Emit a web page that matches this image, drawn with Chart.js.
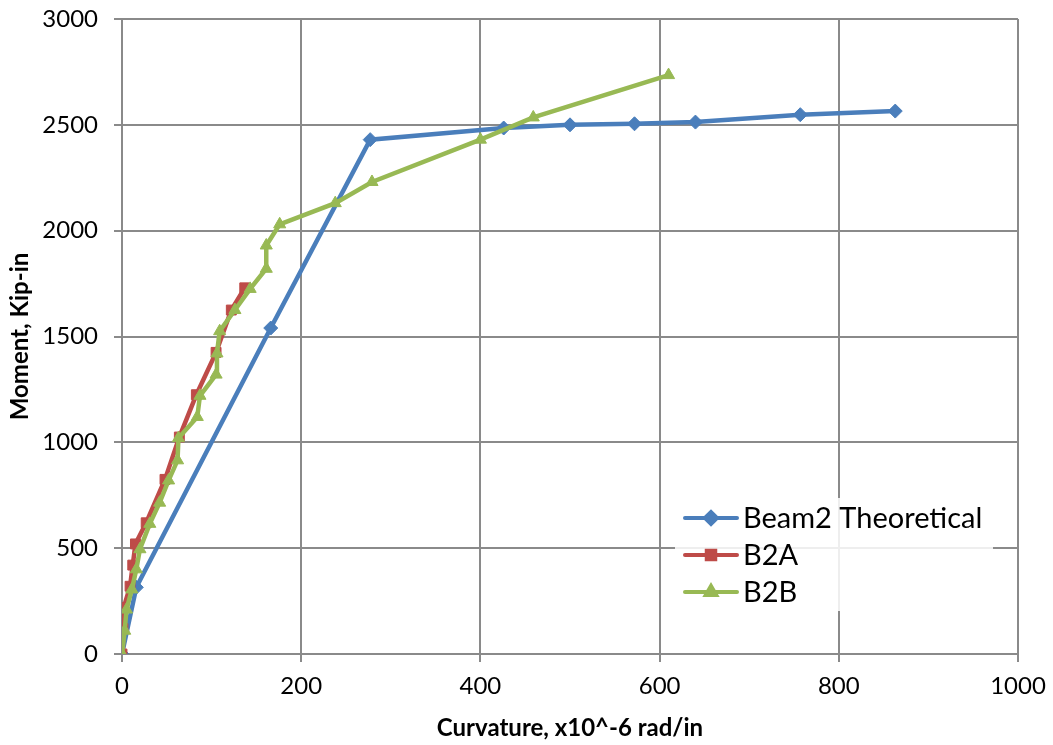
<!DOCTYPE html>
<html lang="en">
<head>
  <meta charset="utf-8">
  <title>Moment vs Curvature</title>
  <script src="https://cdn.jsdelivr.net/npm/chart.js"></script>
  <style>
    * { box-sizing: border-box; margin: 0; padding: 0; }
    html, body { width: 1053px; height: 745px; background: #ffffff; overflow: hidden; }
    #wrap { position: relative; width: 1053px; height: 745px; }
  </style>
</head>
<body>
  <div id="wrap"><canvas id="chart"></canvas></div>
  <script>
    // data
    const theoX = [0, 16, 166, 277, 426, 500, 572, 640, 757, 863];
    const theoY = [0, 315, 1540, 2430, 2485, 2500, 2505, 2513, 2548, 2565];

    const b2aX = [0, 1, 2, 9, 12, 15, 27, 48, 64, 83, 105, 122, 137];
    const b2aY = [0, 120, 220, 320, 420, 520, 620, 825, 1025, 1225, 1425, 1625, 1730];

    const b2bX = [0, 3, 5, 11, 16, 20, 31, 42, 52, 62, 63, 84, 87, 105, 106, 109, 126, 143, 161, 161, 176, 238, 279, 400, 459, 610];
    const b2bY = [0, 110, 210, 305, 400, 495, 615, 715, 820, 915, 1020, 1120, 1220, 1320, 1420, 1525, 1625, 1725, 1820, 1930, 2030, 2130, 2230, 2430, 2535, 2735];

    const seriesNames = ['Beam2 Theoretical', 'B2A', 'B2B'];
    const xTicks = [0, 200, 400, 600, 800, 1000];
    const yTicks = [0, 500, 1000, 1500, 2000, 2500, 3000];

    const toPoints = (xs, ys) => xs.map((x, i) => ({ x, y: ys[i] }));

    const FONT = 'Lato, "Open Sans", sans-serif';
    const gridColor = '#8a8a8a';

    // legend drawn inside the plot, Excel style
    const boxLegend = {
      id: 'boxLegend',
      afterDatasetsDraw(chart) {
        const ctx = chart.ctx;
        const left = 675, top = 498, w = 318, h = 113;
        ctx.save();
        ctx.fillStyle = 'rgba(255,255,255,0.85)';
        ctx.fillRect(left, top, w, h);
        ctx.font = '29px ' + FONT;
        ctx.textBaseline = 'middle';
        chart.data.datasets.forEach((ds, i) => {
          const y = 518 + i * 37;
          ctx.strokeStyle = ds.borderColor;
          ctx.lineWidth = 4;
          ctx.lineCap = 'round';
          ctx.beginPath();
          ctx.moveTo(685, y);
          ctx.lineTo(737, y);
          ctx.stroke();
          Chart.helpers.drawPoint(ctx, {
            pointStyle: ds.pointStyle, radius: ds.pointRadius - 1, borderWidth: 1
          }, 711, y);
          ctx.fillStyle = ds.borderColor;
          ctx.fill();
          ctx.fillStyle = '#000';
          ctx.fillText(ds.label, 743, y + 1);
        });
        ctx.restore();
      }
    };

    new Chart(document.getElementById('chart'), {
      type: 'scatter',
      data: {
        datasets: [
          { label: seriesNames[0], data: toPoints(theoX, theoY), showLine: true, order: 2,
            borderColor: '#4a7ebb', backgroundColor: '#4a7ebb', borderWidth: 4.5,
            pointStyle: 'rectRot', pointRadius: 7, pointBorderWidth: 1 },
          { label: seriesNames[1], data: toPoints(b2aX, b2aY), showLine: true, order: 1,
            borderColor: '#be4b48', backgroundColor: '#be4b48', borderWidth: 4.5,
            pointStyle: 'rect', pointRadius: 7, pointBorderWidth: 1 },
          { label: seriesNames[2], data: toPoints(b2bX, b2bY), showLine: true, order: 0,
            borderColor: '#98b954', backgroundColor: '#98b954', borderWidth: 4.5,
            pointStyle: 'triangle', pointRadius: 7, pointBorderWidth: 1 }
        ]
      },
      options: {
        responsive: true,
        maintainAspectRatio: false,
        animation: false,
        layout: { padding: { left: 0, right: 35, top: 19, bottom: 0 } },
        plugins: { legend: { display: false }, tooltip: { enabled: false } },
        scales: {
          x: {
            type: 'linear', min: 0, max: 1000,
            afterBuildTicks: s => { s.ticks = xTicks.map(v => ({ value: v })); },
            afterFit: s => { s.height = 745 - 654; s.paddingLeft = 0; s.paddingRight = 0; },
            grid: { color: gridColor, lineWidth: 2, tickLength: 8 },
            border: { color: gridColor, width: 2 },
            ticks: { color: '#000', font: { family: FONT, size: 24 }, padding: 10, maxRotation: 0,
              callback: v => String(v) },
            title: { display: true, text: 'Curvature, x10^-6 rad/in', color: '#000',
              font: { family: FONT, size: 24, weight: 'bold' }, padding: { top: 0, bottom: 2 } }
          },
          y: {
            type: 'linear', min: 0, max: 3000,
            afterBuildTicks: s => { s.ticks = yTicks.map(v => ({ value: v })); },
            afterFit: s => { s.width = 122; s.paddingTop = 0; s.paddingBottom = 0; },
            grid: { color: gridColor, lineWidth: 2, tickLength: 8 },
            border: { color: gridColor, width: 2 },
            ticks: { color: '#000', font: { family: FONT, size: 24 }, padding: 16,
              callback: v => String(v) },
            title: { display: true, text: 'Moment, Kip-in', color: '#000',
              font: { family: FONT, size: 24, weight: 'bold' }, padding: { top: 6, bottom: 0 } }
          }
        }
      },
      plugins: [boxLegend]
    });
  </script>
</body>
</html>
